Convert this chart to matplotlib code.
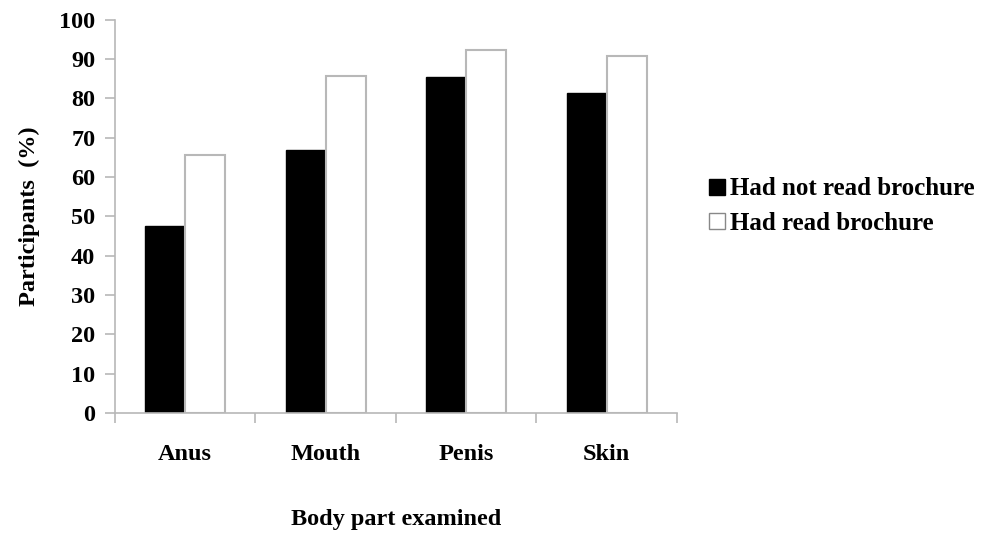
import numpy as np
import matplotlib.pyplot as plt
from matplotlib.lines import Line2D

# data
partes = ['Anus', 'Mouth', 'Penis', 'Skin']
no_leido = [47.5, 67, 85.5, 81.5]
leido = [65.5, 85.8, 92.2, 90.8]

plt.rcParams['font.family'] = ['Liberation Serif', 'DejaVu Serif']
plt.rcParams['font.weight'] = 'bold'

fig = plt.figure(figsize=(9.81, 5.35), dpi=100)
ax = fig.add_axes([0.117, 0.228, 0.573, 0.735])

gris = '#b8b8b8'
x = np.arange(len(partes))
w = 0.285
ax.bar(x - w/2, no_leido, width=w, color='black', edgecolor='black', linewidth=1)
ax.bar(x + w/2, leido, width=w, color='white', edgecolor=gris, linewidth=1.5)

ax.set_xlim(-0.5, len(partes) - 0.5)
ax.set_ylim(0, 100)
ax.set_yticks(range(0, 101, 10))
ax.set_xticks(x)
ax.set_xticklabels(partes)
ax.set_xticks(np.arange(-0.5, len(partes), 1), minor=True)
ax.tick_params(axis='x', which='major', length=0, pad=22, labelsize=17.5)
ax.tick_params(axis='x', which='minor', length=7, color=gris, width=1.2)
ax.tick_params(axis='y', length=7, color=gris, width=1.2, labelsize=17.5, pad=7)

for s in ['top', 'right']:
    ax.spines[s].set_visible(False)
for s in ['left', 'bottom']:
    ax.spines[s].set_color(gris)
    ax.spines[s].set_linewidth(1.2)

ax.set_ylabel('Participants  (%)', fontsize=17.5, fontweight='bold', labelpad=14)
ax.set_xlabel('Body part examined', fontsize=17.5, fontweight='bold', labelpad=32)

handles = [Line2D([], [], marker='s', linestyle='none', markersize=11,
                  markerfacecolor='black', markeredgecolor='black'),
           Line2D([], [], marker='s', linestyle='none', markersize=11,
                  markerfacecolor='white', markeredgecolor='#888888')]
fig.legend(handles, ['Had not read brochure', 'Had read brochure'],
           loc='center left', bbox_to_anchor=(0.700, 0.615), frameon=False,
           fontsize=18, handlelength=0.6, handletextpad=0.25, labelspacing=0.45)

fig.savefig('out.png', dpi=100)
